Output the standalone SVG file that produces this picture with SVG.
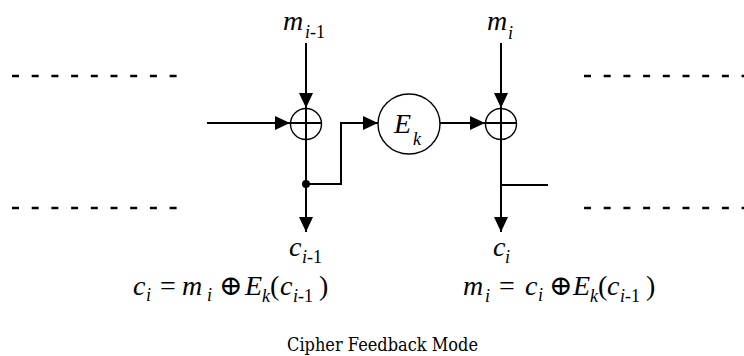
<svg xmlns="http://www.w3.org/2000/svg" width="744" height="356" viewBox="0 0 744 356">
<style>
.ln{stroke:#000;stroke-width:2;fill:none}
.dash{stroke:#000;stroke-width:2.5;stroke-dasharray:7 12.7;fill:none}
.node{stroke:#000;stroke-width:1.4;fill:#fff}
.m{font-style:italic;font-size:28px}
.s{font-style:italic;font-size:18px}
.u{font-style:normal;font-size:18px}
.r{font-size:28px}
.cap{font-size:19px}
</style>
<defs>
<marker id="ah" markerUnits="userSpaceOnUse" markerWidth="15" markerHeight="14" refX="15" refY="7" orient="auto">
<path d="M0,0 L15,7 L0,14 z" fill="#000"/>
</marker>
</defs>
<rect width="744" height="356" fill="#fff"/>
<g id="dashes">
<line class="dash" x1="12" y1="76" x2="177" y2="76"/>
<line class="dash" x1="12" y1="208" x2="177" y2="208"/>
<line class="dash" x1="584" y1="76" x2="744" y2="76"/>
<line class="dash" x1="584" y1="208" x2="744" y2="208"/>
</g>
<g id="connectors">
<line class="ln" x1="207" y1="123" x2="290" y2="123" marker-end="url(#ah)"/>
<line class="ln" x1="306" y1="43" x2="306" y2="108" marker-end="url(#ah)"/>
<line class="ln" x1="306" y1="140" x2="306" y2="232" marker-end="url(#ah)"/>
<polyline class="ln" points="306,184 341,184 341,123 378,123" marker-end="url(#ah)"/>
<line class="ln" x1="440" y1="123" x2="485" y2="123" marker-end="url(#ah)"/>
<line class="ln" x1="501" y1="43" x2="501" y2="108" marker-end="url(#ah)"/>
<line class="ln" x1="501" y1="140" x2="501" y2="232" marker-end="url(#ah)"/>
<line class="ln" x1="501" y1="185" x2="548" y2="185"/>
<circle cx="306" cy="184" r="4" fill="#000"/>
</g>
<g font-family="Liberation Serif, DejaVu Serif, serif" fill="#000">
<g id="xor1">
<circle class="node" cx="306" cy="124" r="15.5"/>
<line class="ln" x1="290.5" y1="123" x2="321.5" y2="123"/>
<line class="ln" x1="306" y1="108.5" x2="306" y2="139.5"/>
</g>
<g id="ek">
<ellipse class="node" cx="409" cy="124" rx="31" ry="30"/>
<text class="m" x="394" y="133">E</text>
<text class="s" x="413" y="145">k</text>
</g>
<g id="xor2">
<circle class="node" cx="501" cy="124" r="15.5"/>
<line class="ln" x1="485.5" y1="123" x2="516.5" y2="123"/>
<line class="ln" x1="501" y1="108.5" x2="501" y2="139.5"/>
</g>
<g id="label-m-prev">
<text class="m" x="283" y="30">m</text>
<text x="305" y="38"><tspan class="s">i</tspan><tspan class="u">-1</tspan></text>
</g>
<g id="label-m">
<text class="m" x="487" y="30">m</text>
<text class="s" x="508" y="39">i</text>
</g>
<g id="label-c-prev">
<text class="m" x="289" y="256">c</text>
<text x="302" y="263"><tspan class="s">i</tspan><tspan class="u">-1</tspan></text>
</g>
<g id="label-c">
<text class="m" x="493" y="256">c</text>
<text class="s" x="505" y="263">i</text>
</g>
<g id="formula-enc">
<text class="m" x="133" y="295">c</text>
<text class="s" x="146" y="301">i</text>
<text class="r" x="160" y="295">=</text>
<text class="m" x="182" y="295">m</text>
<text class="s" x="207" y="301">i</text>
<text class="r" x="219" y="295">⊕</text>
<text class="m" x="245" y="295">E</text>
<text class="s" x="262" y="302">k</text>
<text class="r" x="270" y="295">(</text>
<text class="m" x="280" y="295">c</text>
<text x="293" y="302"><tspan class="s">i</tspan><tspan class="u">-1</tspan></text>
<text class="r" x="319" y="295">)</text>
</g>
<g id="formula-dec">
<text class="m" x="463" y="295">m</text>
<text class="s" x="485" y="302">i</text>
<text class="r" x="499" y="295">=</text>
<text class="m" x="525" y="295">c</text>
<text class="s" x="538" y="301">i</text>
<text class="r" x="549" y="295">⊕</text>
<text class="m" x="573" y="295">E</text>
<text class="s" x="590" y="302">k</text>
<text class="r" x="598" y="295">(</text>
<text class="m" x="607" y="295">c</text>
<text x="620" y="302"><tspan class="s">i</tspan><tspan class="u">-1</tspan></text>
<text class="r" x="646" y="295">)</text>
</g>
</g>
<g id="caption">
<text class="cap" x="287" y="351" font-family="DejaVu Serif, serif" textLength="191" lengthAdjust="spacingAndGlyphs">Cipher Feedback Mode</text>
</g>
</svg>
